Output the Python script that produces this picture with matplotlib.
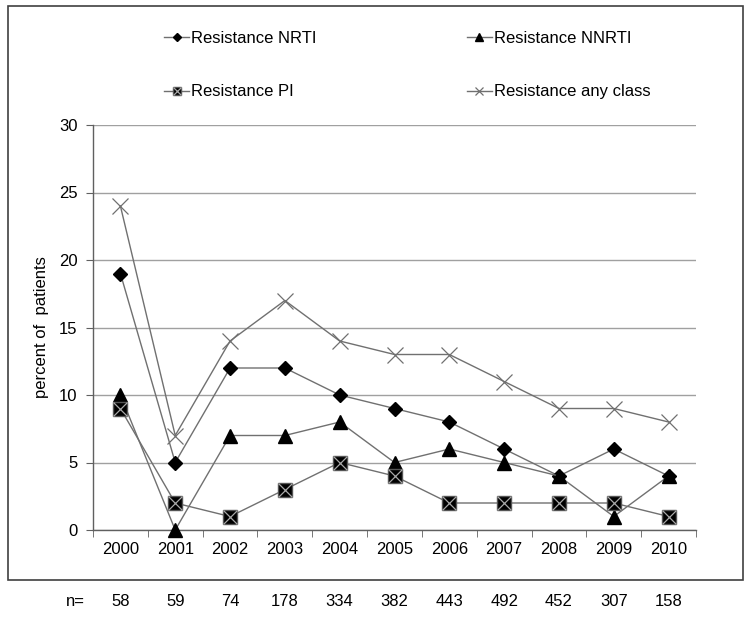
import matplotlib
matplotlib.use("Agg")
import matplotlib.pyplot as plt
from matplotlib.patches import Rectangle
from matplotlib.legend_handler import HandlerTuple
import matplotlib.transforms as mtransforms

plt.rcParams['font.family'] = ['Liberation Sans', 'DejaVu Sans']

years = ["2000", "2001", "2002", "2003", "2004", "2005", "2006", "2007", "2008", "2009", "2010"]
n_patients = ["58", "59", "74", "178", "334", "382", "443", "492", "452", "307", "158"]
nrti = [19, 5, 12, 12, 10, 9, 8, 6, 4, 6, 4]
nnrti = [10, 0, 7, 7, 8, 5, 6, 5, 4, 1, 4]
pi = [9, 2, 1, 3, 5, 4, 2, 2, 2, 2, 1]
any_class = [24, 7, 14, 17, 14, 13, 13, 11, 9, 9, 8]

W, H = 750, 617
FS = 12
fig = plt.figure(figsize=(W / 100, H / 100), dpi=100)
ax = fig.add_axes([93 / W, 1 - 530 / H, (696 - 93) / W, (530 - 125) / H])

x = list(range(len(years)))
lc = '#707070'
lw = 1.0

l_nrti, = ax.plot(x, nrti, color=lc, lw=lw, marker='D', ms=7, mfc='black', mec='black', zorder=3, clip_on=False)
l_nnrti, = ax.plot(x, nnrti, color=lc, lw=lw, marker='^', ms=10, mfc='black', mec='black', zorder=4, clip_on=False)
l_pi, = ax.plot(x, pi, color=lc, lw=lw, marker='s', ms=10, mfc='black', mec='#555555', zorder=5, clip_on=False)
l_pi_x, = ax.plot(x, pi, color=lc, lw=0, marker='x', ms=10, mec='#a8a8a8', mew=0.9, zorder=6, clip_on=False)
l_any, = ax.plot(x, any_class, color=lc, lw=lw, marker='x', ms=11, mec='#707070', mew=0.9, zorder=3, clip_on=False)

ax.set_xlim(-0.5, len(years) - 0.5)
ax.set_ylim(0, 30)
ax.set_yticks(range(0, 31, 5))
ax.set_xticks(x)
ax.set_xticklabels(years, fontsize=FS)
ax.set_xticks([i - 0.5 for i in range(len(years) + 1)], minor=True)
ax.tick_params(axis='x', which='major', length=0, pad=9)
ax.tick_params(axis='x', which='minor', length=5, direction='out', color='#606060')
ax.tick_params(axis='y', length=5, direction='out', color='#606060', labelsize=FS, pad=6)
ax.yaxis.grid(True, color='#a0a0a0', lw=1.0)
ax.set_axisbelow(True)
for s in ['top', 'right']:
    ax.spines[s].set_visible(False)
for s in ['left', 'bottom']:
    ax.spines[s].set_color('#606060')
    ax.spines[s].set_linewidth(1.0)
ax.set_ylabel('percent of  patients', fontsize=FS, labelpad=7)

# n= row
trans = mtransforms.blended_transform_factory(ax.transData, fig.transFigure)
for xi, n in zip(x, n_patients):
    ax.text(xi, 1 - 601 / H, n, transform=trans, ha='center', va='center', fontsize=FS)
fig.text(75 / W, 1 - 601 / H, 'n=', ha='center', va='center', fontsize=FS)

# outer frame
fig.patches.append(Rectangle((8 / W, 1 - 580 / H), (743 - 8) / W, (580 - 6) / H,
                             transform=fig.transFigure, fill=False, ec='#404040', lw=1.2))

# legend
handles = [l_nrti, (l_pi, l_pi_x), l_nnrti, l_any]
labels = ['Resistance NRTI', 'Resistance PI', 'Resistance NNRTI', 'Resistance any class']
leg = fig.legend(handles, labels, ncol=2, loc='upper left', bbox_to_anchor=(149 / W, 1 - 16 / H),
                 frameon=False, fontsize=FS, markerscale=0.55, handlelength=1.5, handletextpad=0.12,
                 labelspacing=2.3, columnspacing=9.0,
                 handler_map={tuple: HandlerTuple(ndivide=1, pad=0)})

fig.savefig('out.png', dpi=100)
